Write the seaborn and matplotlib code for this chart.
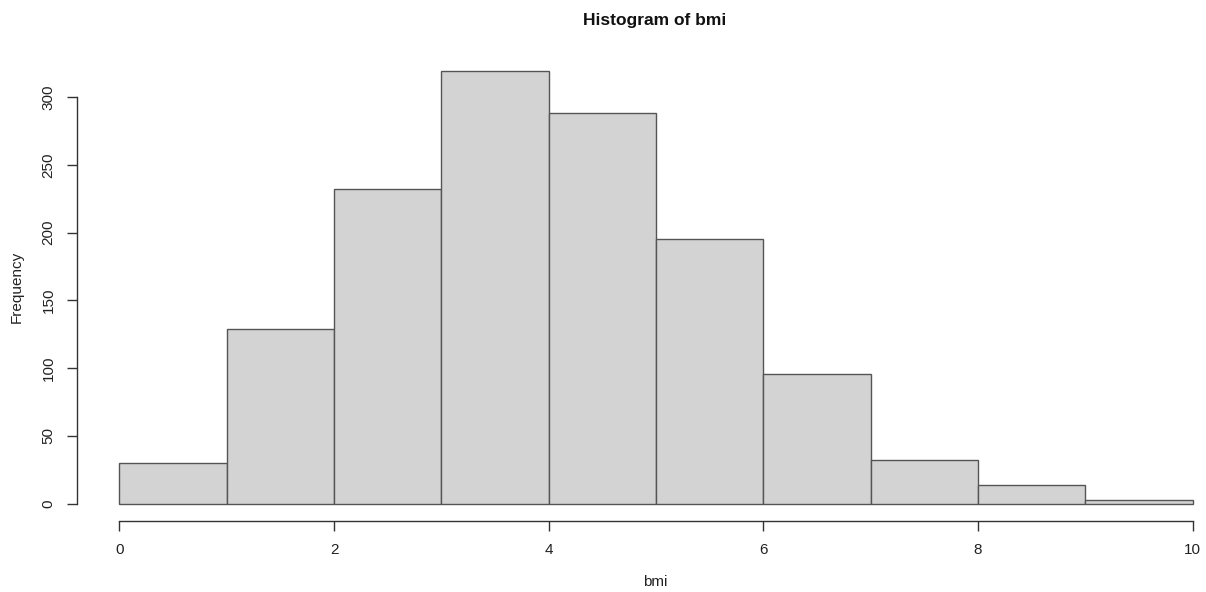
import matplotlib
matplotlib.use("Agg")
import matplotlib.pyplot as plt
import seaborn as sns
import numpy as np

# Histogram counts for bmi, unit-wide bins from 0 to 10
bin_edges = [0, 1, 2, 3, 4, 5, 6, 7, 8, 9, 10]
counts = [30, 129, 232, 319, 288, 195, 96, 32, 14, 3]
x_ticks = [0, 2, 4, 6, 8, 10]
y_ticks = [0, 50, 100, 150, 200, 250, 300]

sns.set_style("white")
plt.rcParams["font.family"] = ["Liberation Sans", "DejaVu Sans"]

W, H = 1206, 592
fig = plt.figure(figsize=(W / 100, H / 100), dpi=100)
ax = fig.add_axes([76.5 / W, 71 / H, 1159 / W, (521 - 54) / H])

centers = [(a + b) / 2 for a, b in zip(bin_edges[:-1], bin_edges[1:])]
sns.histplot(x=centers, weights=counts, bins=bin_edges, ax=ax,
             color="#d3d3d3", edgecolor="#555555", linewidth=1.0, alpha=1.0)

# R-like expanded ranges and detached axes
ymax = max(counts)
ax.set_xlim(-0.04 * 10, 10 + 0.04 * 10)
ax.set_ylim(-0.04 * ymax, ymax * 1.04)
for s in ["top", "right"]:
    ax.spines[s].set_visible(False)
for s in ["left", "bottom"]:
    ax.spines[s].set_visible(True)
    ax.spines[s].set_color("#333333")
    ax.spines[s].set_linewidth(1.0)
    ax.spines[s].set_zorder(5)
ax.spines["bottom"].set_bounds(x_ticks[0], x_ticks[-1])
ax.spines["left"].set_bounds(y_ticks[0], y_ticks[-1])

ax.set_xticks(x_ticks)
ax.set_yticks(y_ticks)
ax.set_xticklabels([str(v) for v in x_ticks])
ax.set_yticklabels([str(v) for v in y_ticks], rotation=90, va="center")
ax.tick_params(axis="both", direction="out", length=7, width=1.0,
               color="#333333", labelcolor="#222222", labelsize=11,
               bottom=True, left=True)
ax.tick_params(axis="x", pad=9)
ax.tick_params(axis="y", pad=8)

ax.set_xlabel("")
ax.set_ylabel("")
fig.text(655 / W, 1 - 582 / H, "bmi", ha="center", va="center",
         fontsize=11, color="#222222")
fig.text(17 / W, 1 - 287 / H, "Frequency", ha="center", va="center",
         rotation=90, fontsize=11, color="#222222")
fig.text(655 / W, 1 - 20 / H, "Histogram of bmi", ha="center", va="center",
         fontsize=12.5, fontweight="bold", color="#111111")

fig.savefig("out.png", dpi=100)
